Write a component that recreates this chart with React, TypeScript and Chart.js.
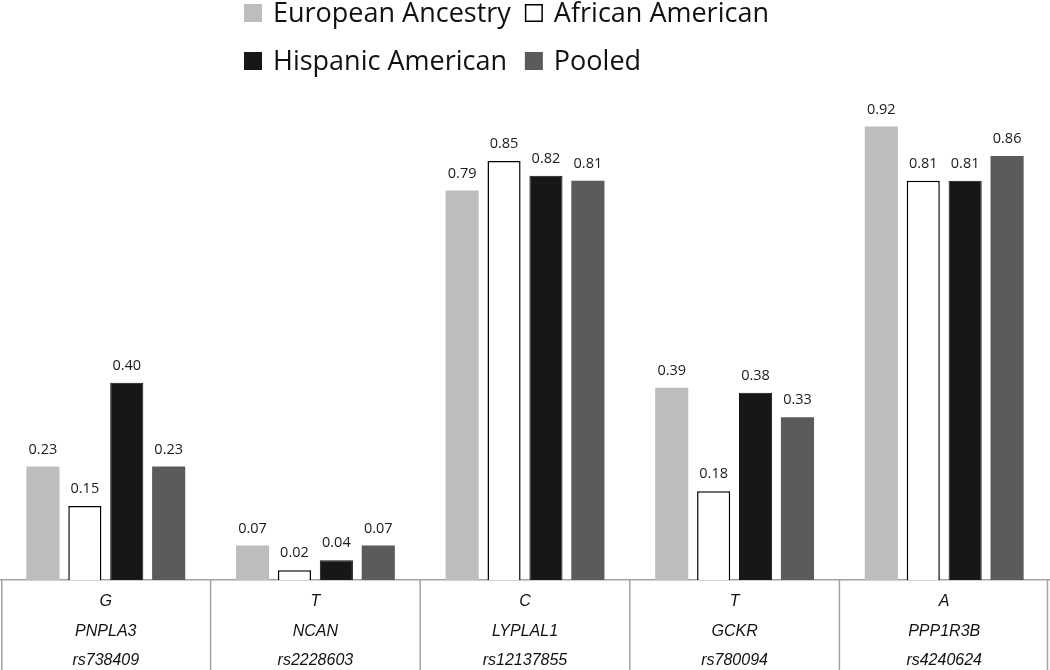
import React, { useEffect, useRef } from 'react';
import { Chart, registerables } from 'chart.js';

Chart.register(...registerables);

const alleles = ['G', 'T', 'C', 'T', 'A'];
const genes = ['PNPLA3', 'NCAN', 'LYPLAL1', 'GCKR', 'PPP1R3B'];
const snps = ['rs738409', 'rs2228603', 'rs12137855', 'rs780094', 'rs4240624'];

const seriesNames = ['European Ancestry', 'African American', 'Hispanic American', 'Pooled'];
const europeanAncestry = [0.23, 0.07, 0.79, 0.39, 0.92];
const africanAmerican = [0.15, 0.02, 0.85, 0.18, 0.81];
const hispanicAmerican = [0.4, 0.04, 0.82, 0.38, 0.81];
const pooled = [0.23, 0.07, 0.81, 0.33, 0.86];

const fills = ['#bdbdbd', '#ffffff', '#171717', '#5b5b5b'];
const strokes = ['#bdbdbd', '#000000', '#111111', '#5b5b5b'];
const strokeWidths = [0, 1.5, 1, 0];

const TABLE_LINE = '#a3a3a3';

const legendPlugin = {
  id: 'gridLegend',
  afterDraw(chart: any) {
    const ctx = chart.ctx;
    const ds = chart.data.datasets;
    ctx.save();
    ctx.font = '27px "Open Sans"';
    ctx.textBaseline = 'middle';
    ctx.textAlign = 'left';
    const x0 = 244;
    const box = 18;
    const gap = 11;
    const col1W = Math.max(ctx.measureText(ds[0].label).width, ctx.measureText(ds[2].label).width);
    const x1 = x0 + box + gap + col1W + 14;
    const rows = [13, 61];
    const positions = [
      [x0, rows[0]],
      [x1, rows[0]],
      [x0, rows[1]],
      [x1, rows[1]],
    ];
    ds.forEach((d: any, i: number) => {
      const [x, y] = positions[i];
      ctx.fillStyle = d.backgroundColor;
      ctx.fillRect(x, y - box / 2, box, box);
      if (d.borderWidth > 0 && d.backgroundColor === '#ffffff') {
        ctx.strokeStyle = '#000';
        ctx.lineWidth = 1.5;
        ctx.strokeRect(x + 0.75, y - box / 2 + 0.75, box - 1.5, box - 1.5);
      }
      ctx.fillStyle = '#111';
      ctx.fillText(d.label, x + box + gap, y + 1);
    });
    ctx.restore();
  },
};

const valueLabelPlugin = {
  id: 'valueLabels',
  afterDatasetsDraw(chart: any) {
    const ctx = chart.ctx;
    ctx.save();
    ctx.font = '14.5px "Open Sans"';
    ctx.fillStyle = '#1a1a1a';
    ctx.textAlign = 'center';
    ctx.textBaseline = 'middle';
    chart.data.datasets.forEach((d: any, di: number) => {
      const meta = chart.getDatasetMeta(di);
      meta.data.forEach((el: any, i: number) => {
        ctx.fillText(Number(d.data[i]).toFixed(2), el.x, el.y - 17);
      });
    });
    ctx.restore();
  },
};

const tablePlugin = {
  id: 'tableLines',
  afterDraw(chart: any) {
    const { ctx, chartArea } = chart;
    const n = chart.data.labels.length;
    const w = (chartArea.right - chartArea.left) / n;
    ctx.save();
    ctx.strokeStyle = TABLE_LINE;
    ctx.lineWidth = 1.5;
    for (let i = 0; i <= n; i++) {
      let x = chartArea.left + i * w;
      if (i === 0) x += 0.75;
      if (i === n) x -= 1.5;
      ctx.beginPath();
      ctx.moveTo(x, chartArea.bottom);
      ctx.lineTo(x, chart.height);
      ctx.stroke();
    }
    ctx.restore();
  },
};

export default function App() {
  const ref = useRef<HTMLCanvasElement | null>(null);

  useEffect(() => {
    document.body.style.margin = '0';
    const canvas = ref.current;
    if (!canvas) return;
    const values = [europeanAncestry, africanAmerican, hispanicAmerican, pooled];
    const chart = new Chart(canvas, {
      type: 'bar',
      data: {
        labels: alleles.map((a, i) => [a, genes[i], snps[i]]),
        datasets: seriesNames.map((name, i) => ({
          label: name,
          data: values[i],
          backgroundColor: fills[i],
          borderColor: strokes[i],
          borderWidth: strokeWidths[i],
          categoryPercentage: 0.8,
          barPercentage: 0.79,
        })),
      },
      options: {
        animation: false,
        responsive: false,
        maintainAspectRatio: false,
        layout: { padding: { top: 87, left: 1, right: 1, bottom: 0 } },
        plugins: {
          legend: { display: false },
          tooltip: { enabled: false },
        },
        scales: {
          x: {
            grid: { display: false, drawTicks: false },
            border: { display: true, color: TABLE_LINE, width: 1.5 },
            ticks: {
              font: { family: '"Liberation Sans", Arial, sans-serif', size: 16, style: 'italic', lineHeight: 1.84 },
              color: '#111',
              padding: 7,
              maxRotation: 0,
              autoSkip: false,
            },
            afterFit: (s: any) => {
              s.height = 90;
            },
          },
          y: { display: false, min: 0, max: 1 },
        },
      },
      plugins: [valueLabelPlugin, tablePlugin, legendPlugin],
    } as any);
    return () => chart.destroy();
  }, []);

  return (
    <div style={{ width: 1050, height: 670 }}>
      <canvas ref={ref} width={1050} height={670} style={{ display: 'block' }} />
    </div>
  );
}
